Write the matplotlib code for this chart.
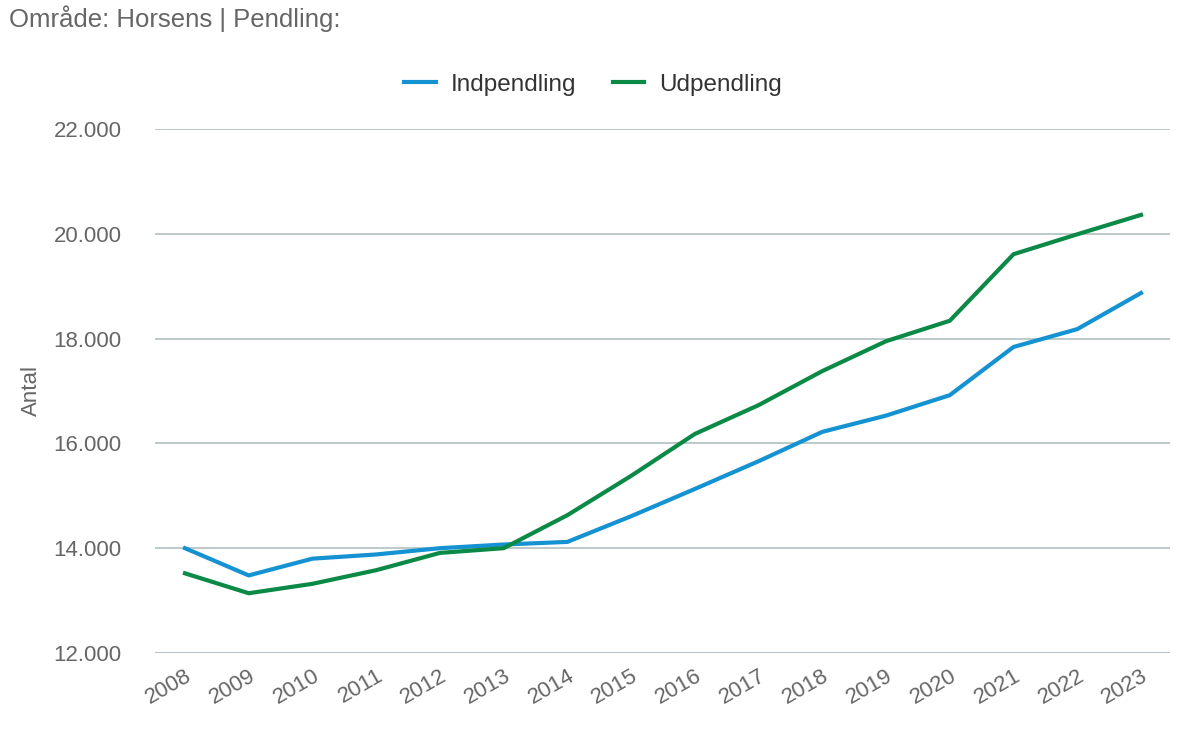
import matplotlib
matplotlib.use("Agg")
import matplotlib.pyplot as plt
from matplotlib.ticker import FuncFormatter

plt.rcParams['font.family'] = ['Liberation Sans', 'DejaVu Sans']

years = list(range(2008, 2024))
indpendling = [14000, 13480, 13800, 13880, 14000, 14070, 14120, 14610, 15130,
               15660, 16220, 16530, 16920, 17840, 18180, 18870]
udpendling = [13520, 13140, 13320, 13580, 13910, 14000, 14630, 15380, 16180,
              16730, 17380, 17950, 18340, 19610, 19990, 20360]
y_ticks = [12000, 14000, 16000, 18000, 20000, 22000]

text_gray = '#666666'

fig = plt.figure(figsize=(11.86, 7.37), dpi=100)
ax = fig.add_axes([0.1307, 0.114, 0.8558, 0.711])

ax.plot(years, indpendling, color='#1592d1', lw=3, label='Indpendling')
ax.plot(years, udpendling, color='#0b8a47', lw=3, label='Udpendling')

ax.set_xlim(2007.53, 2023.455)
ax.set_ylim(12000, 22000)
ax.set_yticks(y_ticks)
ax.yaxis.set_major_formatter(FuncFormatter(lambda v, p: f"{int(v):,}".replace(',', '.')))
ax.set_xticks(years)
ax.set_xticklabels([str(y) for y in years], rotation=30, ha='right',
                   rotation_mode='anchor', color=text_gray, fontsize=16)
ax.tick_params(axis='y', length=0, pad=24, labelsize=16, labelcolor=text_gray)
ax.tick_params(axis='x', length=0, pad=9)

ax.grid(axis='y', color='#b0c0c0', lw=1.2)
ax.set_axisbelow(True)
for s in ax.spines.values():
    s.set_visible(False)
ax.axhline(12000, color='#ccd6eb', lw=1.5, zorder=0)

ax.set_ylabel('Antal', fontsize=16, color=text_gray, labelpad=8)

fig.text(0.008, 0.975, 'Område: Horsens | Pendling:', fontsize=18.5,
         color=text_gray, va='center', ha='left')

fig.legend(loc='center', bbox_to_anchor=(0.5, 0.885), ncol=2, frameon=False,
           fontsize=17.5, handlelength=1.3, handletextpad=0.6,
           columnspacing=1.5, labelcolor='#333333')

fig.savefig('out.png', dpi=100)
